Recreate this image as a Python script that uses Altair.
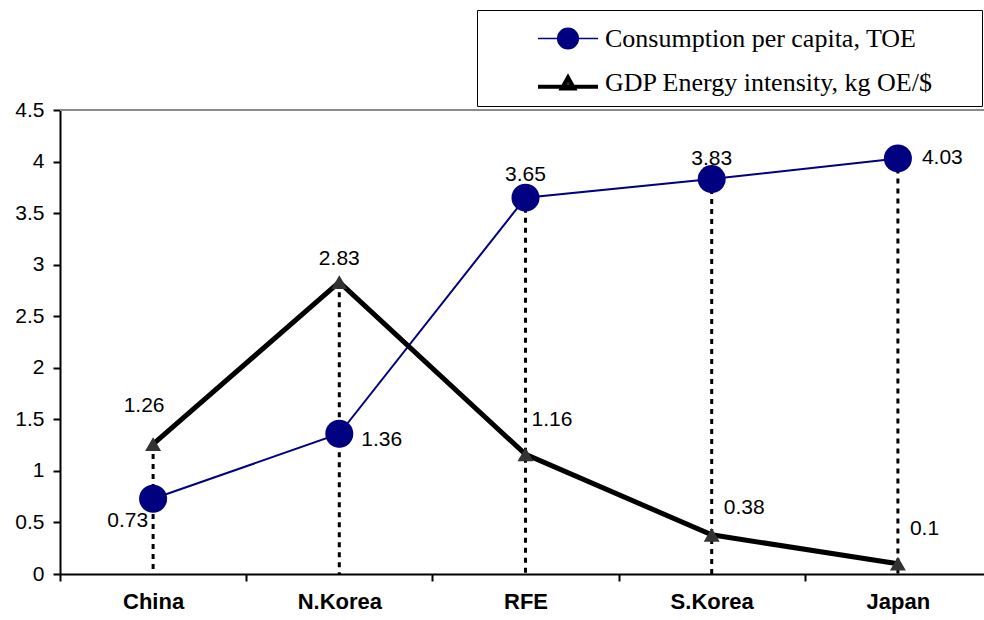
import altair as alt
import pandas as pd

categories = ["China", "N.Korea", "RFE", "S.Korea", "Japan"]
consumption = [0.73, 1.36, 3.65, 3.83, 4.03]
gdp_intensity = [1.26, 2.83, 1.16, 0.38, 0.1]
series_names = ["Consumption per capita, TOE", "GDP Energy intensity, kg OE/$"]
y_ticks = [0, 0.5, 1, 1.5, 2, 2.5, 3, 3.5, 4, 4.5]

df = pd.DataFrame({"category": categories, "cons": consumption, "gdp": gdp_intensity})
legend_df = pd.DataFrame({"series": series_names})

NAVY = "#000080"
DARK = "#333333"
SANS = "Liberation Sans"
SERIF = "Liberation Serif"

x_enc = alt.X(
    "category:N",
    sort=categories,
    scale=alt.Scale(type="band", paddingInner=0, paddingOuter=0, range=[0, 931]),
    axis=alt.Axis(
        title=None, tickBand="extent", labelAngle=0,
        labelFont=SANS, labelFontWeight="bold", labelFontSize=22, labelColor="black",
        labelPadding=10, domainColor="black", domainWidth=2,
        tickColor="black", tickWidth=2, tickSize=7,
    ),
)
y_scale = alt.Scale(domain=[0, 4.5], nice=False, zero=True)
y_axis = alt.Axis(
    title=None, values=y_ticks, format="~g", grid=False,
    labelFont=SANS, labelFontSize=21, labelColor="black", labelPadding=9,
    domainColor="black", domainWidth=2, tickColor="black", tickWidth=2, tickSize=7,
)

base = alt.Chart(df)

top_border = base.mark_rule(color="#8c8c8c", strokeWidth=2).encode(
    y=alt.datum(4.5, scale=y_scale)
)

drops = base.transform_calculate(top="max(datum.cons, datum.gdp)").mark_rule(
    color="black", strokeWidth=3, strokeDash=[5, 5]
).encode(x=x_enc, y=alt.Y("top:Q", scale=y_scale, axis=y_axis), y2=alt.datum(0))

cons_line = base.mark_line(color=NAVY, strokeWidth=2).encode(
    x=x_enc, y=alt.Y("cons:Q", scale=y_scale, axis=y_axis)
)
gdp_line = base.mark_line(color="black", strokeWidth=5).encode(
    x=x_enc, y=alt.Y("gdp:Q", scale=y_scale, axis=y_axis)
)
cons_pts = base.mark_point(shape="circle", filled=True, size=784, color=NAVY, opacity=1).encode(
    x=x_enc, y=alt.Y("cons:Q", scale=y_scale, axis=y_axis)
)
gdp_pts = base.mark_point(shape="triangle-up", filled=True, size=256, color=DARK, opacity=1).encode(
    x=x_enc, y=alt.Y("gdp:Q", scale=y_scale, axis=y_axis)
)

# label placement (style only)
label_style = {
    ("cons", "China"): dict(align="right", dx=-5, dy=22),
    ("cons", "N.Korea"): dict(align="left", dx=22, dy=6),
    ("cons", "RFE"): dict(align="center", dx=0, dy=-23),
    ("cons", "S.Korea"): dict(align="center", dx=0, dy=-20),
    ("cons", "Japan"): dict(align="left", dx=24, dy=0),
    ("gdp", "China"): dict(align="center", dx=-9, dy=-38),
    ("gdp", "N.Korea"): dict(align="center", dx=0, dy=-23),
    ("gdp", "RFE"): dict(align="left", dx=6, dy=-34),
    ("gdp", "S.Korea"): dict(align="left", dx=12, dy=-27),
    ("gdp", "Japan"): dict(align="left", dx=12, dy=-35),
}
labels = []
for (field, cat), st in label_style.items():
    labels.append(
        base.transform_filter(alt.datum.category == cat).mark_text(
            font=SANS, fontSize=21, color="black", baseline="middle", **st
        ).encode(
            x=x_enc,
            y=alt.Y(f"{field}:Q", scale=y_scale, axis=y_axis),
            text=alt.Text(f"{field}:Q", format="~g"),
        )
    )

circ_path = "M-1.6,0H-0.55M0.55,0H1.6M-0.55,0A0.55,0.55,0,1,0,0.55,0A0.55,0.55,0,1,0,-0.55,0Z"
tri_path = "M-1.6,0.2H1.6M0,-0.3L0.33,0.3L-0.33,0.3Z"

# blank spacer title on the right widens the legend box to the page edge
leg = alt.Legend(
    title="\u2800", titleOrient="right", titleFont=SERIF, titleFontSize=51, titlePadding=3,
    orient="none", legendX=417, legendY=-100,
    strokeColor="black", fillColor="white", padding=9, rowPadding=10,
    symbolOffset=61, symbolSize=1406, labelOffset=16,
    labelFont=SERIF, labelFontSize=26, labelColor="black", labelLimit=900,
)
legend_layer = alt.Chart(legend_df).transform_filter("false").mark_point(filled=True, opacity=1).encode(
    shape=alt.Shape("series:N", scale=alt.Scale(domain=series_names, range=[circ_path, tri_path]), legend=leg),
    fill=alt.Fill("series:N", scale=alt.Scale(domain=series_names, range=[NAVY, DARK]), legend=leg),
    stroke=alt.Stroke("series:N", scale=alt.Scale(domain=series_names, range=[NAVY, "black"]), legend=leg),
    strokeWidth=alt.StrokeWidth("series:N", scale=alt.Scale(type="ordinal", domain=series_names, range=[1.5, 4]), legend=leg),
)

chart = alt.layer(top_border, drops, cons_line, gdp_line, cons_pts, gdp_pts, *labels, legend_layer).properties(
    width=924, height=464,
    padding={"left": 60, "top": 110, "right": 0, "bottom": 46},
    autosize="none",
).configure_view(stroke="transparent").configure(background="white")

chart.save("out.html", embed_options={"renderer": "svg", "actions": False})
